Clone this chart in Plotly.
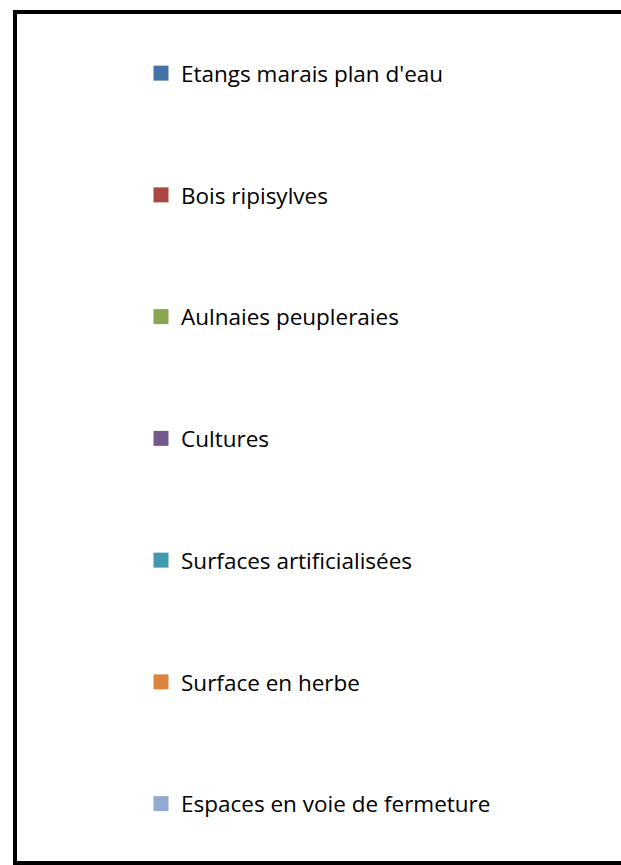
import plotly.graph_objects as go

categories = [
    "Etangs marais plan d'eau",
    "Bois ripisylves",
    "Aulnaies peupleraies",
    "Cultures",
    "Surfaces artificialisées",
    "Surface en herbe",
    "Espaces en voie de fermeture",
]
colors = ["#4572A7", "#AA4643", "#89A54E", "#71588F", "#4198AF", "#DB843D", "#93A9CF"]

W, H = 621, 865

fig = go.Figure()
for i, (name, col) in enumerate(zip(categories, colors)):
    fig.add_trace(go.Scatter(x=[None], y=[None], name=name, mode="markers",
                             marker=dict(symbol="square", size=15, color=col,
                                         line=dict(width=0)),
                             legendgroup=str(i), showlegend=True))

# outer frame (top, left, bottom edges; right edge lies outside the picture)
xl, yt, yb = 15 / W, 1 - 12 / H, 1 - 863 / H
frame = dict(type="line", xref="paper", yref="paper",
             line=dict(color="black", width=4))
shapes = [
    dict(frame, x0=xl - 2 / W, x1=1.0, y0=yt, y1=yt),
    dict(frame, x0=xl, x1=xl, y0=yb - 2 / H, y1=yt + 2 / H),
    dict(frame, x0=xl - 2 / W, x1=1.0, y0=yb, y1=yb),
]

fig.update_layout(
    width=W, height=H,
    margin=dict(l=0, r=0, t=0, b=0),
    paper_bgcolor="white", plot_bgcolor="white",
    xaxis=dict(visible=False), yaxis=dict(visible=False),
    showlegend=True,
    legend=dict(
        x=141 / W, xanchor="left",
        y=1 - 52 / H, yanchor="top",
        font=dict(family="Open Sans", size=22.5, color="black"),
        tracegroupgap=89.5,
        itemsizing="trace",
        bgcolor="rgba(0,0,0,0)",
        traceorder="grouped",
    ),
    shapes=shapes,
)

fig.write_html("out.html", config={"displayModeBar": False},
               post_script="document.body.style.margin='0';")
